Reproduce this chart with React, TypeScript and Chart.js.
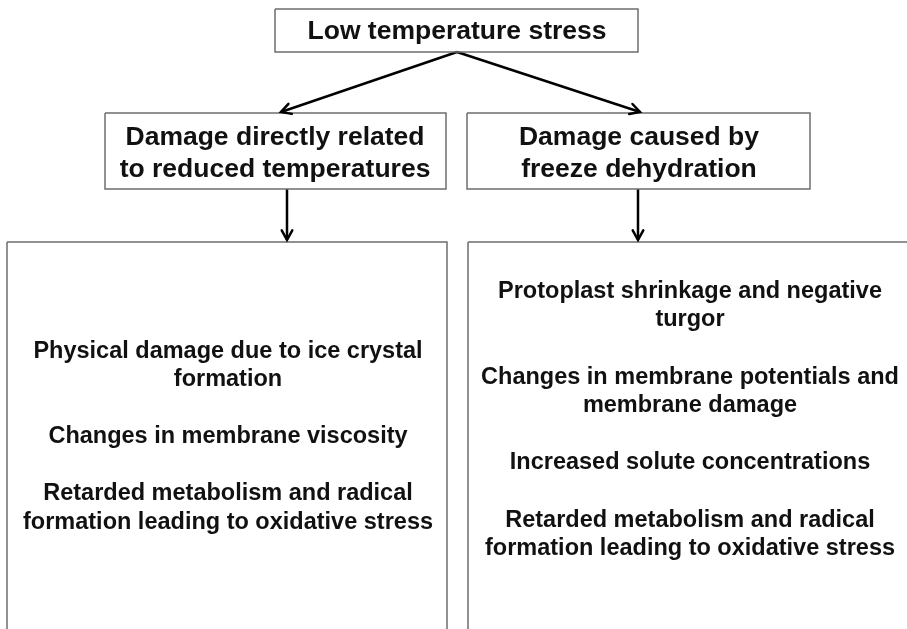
import React, { useEffect, useRef } from "react";
import { Chart, registerables } from "chart.js";

Chart.register(...registerables);

// Node texts (one entry per line)
const topLines = ["Low temperature stress"];
const midLeftLines = ["Damage directly related", "to reduced temperatures"];
const midRightLines = ["Damage caused by", "freeze dehydration"];
const bottomLeftLines = [
  "Physical damage due to ice crystal",
  "formation",
  "",
  "Changes in membrane viscosity",
  "",
  "Retarded metabolism and radical",
  "formation leading to oxidative stress",
];
const bottomRightLines = [
  "Protoplast shrinkage and negative",
  "turgor",
  "",
  "Changes in membrane potentials and",
  "membrane damage",
  "",
  "Increased solute concentrations",
  "",
  "Retarded metabolism and radical",
  "formation leading to oxidative stress",
];

// Layout (plot units = pixels of the 907x629 frame)
type Node = { x0: number; y0: number; x1: number; y1: number; cx: number; cy: number; lines: string[]; lh: number; fs: number };
const nodes: Node[] = [
  { x0: 275, y0: 9, x1: 638, y1: 52, cx: 457, cy: 32, lines: topLines, lh: 29, fs: 26.5 },
  { x0: 105, y0: 113, x1: 446, y1: 189, cx: 275, cy: 153.5, lines: midLeftLines, lh: 32, fs: 26.5 },
  { x0: 467, y0: 113, x1: 810, y1: 189, cx: 639, cy: 153.5, lines: midRightLines, lh: 32, fs: 26.5 },
  { x0: 7, y0: 242, x1: 447, y1: 640, cx: 228, cy: 437, lines: bottomLeftLines, lh: 28.5, fs: 23.5 },
  { x0: 468, y0: 242, x1: 915, y1: 640, cx: 690, cy: 420, lines: bottomRightLines, lh: 28.6, fs: 23.5 },
];
const arrows = [
  [457, 52, 281, 112],
  [457, 52, 640, 112],
  [287, 189, 287, 240],
  [638, 189, 638, 240],
];

export default function App() {
  const ref = useRef<HTMLCanvasElement>(null);
  useEffect(() => {
    document.body.style.margin = "0";
    const datasets: any[] = [];
    nodes.forEach((n) => {
      datasets.push({
        type: "line",
        data: [
          { x: n.x0, y: n.y0 },
          { x: n.x1, y: n.y0 },
          { x: n.x1, y: n.y1 },
          { x: n.x0, y: n.y1 },
          { x: n.x0, y: n.y0 },
        ],
        borderColor: "#6e6e6e",
        borderWidth: 1.5,
        pointRadius: 0,
        fill: false,
        tension: 0,
      });
    });
    arrows.forEach((a) => {
      datasets.push({
        type: "line",
        data: [
          { x: a[0], y: a[1] },
          { x: a[2], y: a[3] },
        ],
        borderColor: "#000",
        borderWidth: 2.5,
        pointRadius: 0,
        fill: false,
      });
    });

    const textPlugin = {
      id: "flowText",
      afterDatasetsDraw(chart: any) {
        const ctx = chart.ctx;
        const xs = chart.scales.x;
        const ys = chart.scales.y;
        ctx.save();
        // arrow heads
        ctx.strokeStyle = "#000";
        ctx.lineWidth = 2.5;
        ctx.lineCap = "round";
        arrows.forEach((a) => {
          const x1 = xs.getPixelForValue(a[0]);
          const y1 = ys.getPixelForValue(a[1]);
          const x2 = xs.getPixelForValue(a[2]);
          const y2 = ys.getPixelForValue(a[3]);
          const ang = Math.atan2(y2 - y1, x2 - x1);
          const L = 11;
          const sp = 0.5;
          ctx.beginPath();
          ctx.moveTo(x2 - L * Math.cos(ang - sp), y2 - L * Math.sin(ang - sp));
          ctx.lineTo(x2, y2);
          ctx.lineTo(x2 - L * Math.cos(ang + sp), y2 - L * Math.sin(ang + sp));
          ctx.stroke();
        });
        ctx.fillStyle = "#111";
        ctx.textAlign = "center";
        ctx.textBaseline = "middle";
        nodes.forEach((n) => {
          ctx.font = `bold ${n.fs}px "Liberation Sans", Arial, sans-serif`;
          const total = (n.lines.length - 1) * n.lh;
          n.lines.forEach((t, k) => {
            if (!t) return;
            const y = n.cy - total / 2 + k * n.lh;
            ctx.fillText(t, xs.getPixelForValue(n.cx), ys.getPixelForValue(y));
          });
        });
        ctx.restore();
      },
    };

    const chart = new Chart(ref.current!, {
      type: "scatter",
      data: { datasets },
      options: {
        animation: false,
        responsive: false,
        maintainAspectRatio: false,
        layout: { padding: 0 },
        plugins: { legend: { display: false }, tooltip: { enabled: false } },
        scales: {
          x: { type: "linear", min: 0, max: 907, display: false },
          y: { type: "linear", min: 0, max: 629, reverse: true, display: false },
        },
      },
      plugins: [textPlugin],
    } as any);
    return () => chart.destroy();
  }, []);
  return (
    <div style={{ position: "fixed", left: 0, top: 0, width: 907, height: 629, background: "#fff" }}>
      <canvas ref={ref} width={907} height={629} style={{ display: "block" }} />
    </div>
  );
}
